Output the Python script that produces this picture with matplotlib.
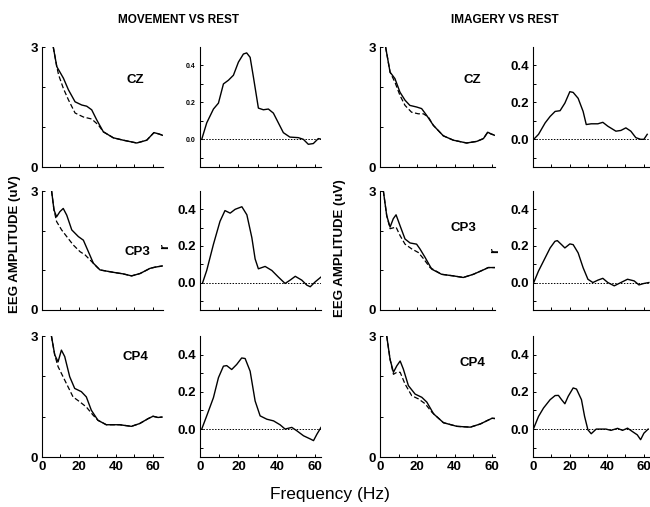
import matplotlib
matplotlib.use("Agg")
from matplotlib import pyplot as plt

plt.rcParams["font.family"] = ["Liberation Sans", "DejaVu Sans"]

# ---- amplitude spectra (uV): solid = task, dashed = rest ----
mov_cz_f = [6.1, 8, 11.6, 14.3, 17.9, 21.5, 24.2, 26.9, 29.6, 33.2, 38.6, 44, 51.3, 56.7, 60.6, 63, 65.5]
mov_cz_a = [3.0, 2.51, 2.22, 1.93, 1.63, 1.55, 1.52, 1.43, 1.18, 0.88, 0.73, 0.67, 0.60, 0.67, 0.86, 0.83, 0.79]
mov_cz_rest_f = [6.1, 8, 9, 11.6, 14.3, 17.9, 22.4, 26.9, 30.5, 33.2, 38.6, 44, 51.3, 56.7, 60.6, 63, 65.5]
mov_cz_rest_a = [3.0, 2.51, 2.30, 1.96, 1.68, 1.35, 1.25, 1.20, 1.05, 0.88, 0.73, 0.67, 0.60, 0.67, 0.86, 0.83, 0.79]

mov_cp3_f = [5.2, 6.5, 7.9, 9.7, 11.5, 13.4, 16.1, 19.7, 22.4, 25.1, 27.8, 31.4, 38.6, 44, 48.5, 53.1, 58.5, 61.2, 65.1]
mov_cp3_a = [3.0, 2.52, 2.35, 2.48, 2.56, 2.39, 2.02, 1.85, 1.76, 1.47, 1.18, 1.01, 0.95, 0.91, 0.86, 0.92, 1.05, 1.08, 1.11]
mov_cp3_rest_f = [5.2, 6.5, 7.9, 10.6, 13.4, 16.9, 20.6, 23.3, 26.9, 29.6, 31.4, 38.6, 44, 48.5, 53.1, 58.5, 61.2, 65.1]
mov_cp3_rest_a = [3.0, 2.52, 2.23, 2.02, 1.85, 1.64, 1.47, 1.39, 1.22, 1.09, 1.01, 0.95, 0.91, 0.86, 0.92, 1.05, 1.08, 1.11]

mov_cp4_f = [5.1, 6.9, 8.7, 10.5, 12.3, 15, 17.7, 21.3, 24, 26.7, 30.3, 34.8, 42, 48.4, 52.9, 57.4, 60.1, 62.8, 65]
mov_cp4_a = [3.0, 2.53, 2.36, 2.65, 2.49, 1.99, 1.70, 1.62, 1.49, 1.16, 0.91, 0.80, 0.80, 0.76, 0.83, 0.95, 1.01, 0.98, 0.99]
mov_cp4_rest_f = [5.1, 6.9, 8.7, 11.4, 14.1, 16.8, 20.4, 24, 27.6, 30.3, 34.8, 42, 48.4, 52.9, 57.4, 60.1, 62.8, 65]
mov_cp4_rest_a = [3.0, 2.53, 2.24, 1.99, 1.74, 1.49, 1.37, 1.24, 1.04, 0.91, 0.80, 0.80, 0.76, 0.83, 0.95, 1.01, 0.98, 0.99]

img_cz_f = [3, 5.4, 8, 10.7, 13.4, 16, 19.6, 22.3, 25, 28.6, 33.9, 39.3, 46.4, 51.8, 55.4, 57.7, 59.3, 61.6]
img_cz_a = [3.0, 2.37, 2.21, 1.87, 1.67, 1.54, 1.50, 1.46, 1.29, 1.04, 0.78, 0.67, 0.60, 0.64, 0.71, 0.87, 0.83, 0.79]
img_cz_rest_f = [3, 5.4, 8, 10.7, 13.4, 16.9, 20.5, 23.2, 25.9, 28.6, 33.9, 39.3, 46.4, 51.8, 55.4, 57.7, 59.3, 61.6]
img_cz_rest_a = [3.0, 2.37, 2.12, 1.79, 1.54, 1.37, 1.33, 1.33, 1.25, 1.04, 0.78, 0.67, 0.60, 0.64, 0.71, 0.87, 0.83, 0.79]

img_cp3_f = [1.8, 3.6, 5.4, 7.1, 8.6, 10.7, 13.4, 16.1, 19.6, 21.4, 24.1, 27.7, 33, 39.3, 44.6, 50, 55.3, 58, 61.6]
img_cp3_a = [3.0, 2.38, 2.09, 2.30, 2.40, 2.13, 1.79, 1.69, 1.66, 1.54, 1.33, 1.03, 0.90, 0.86, 0.82, 0.90, 1.01, 1.07, 1.07]
img_cp3_rest_f = [1.8, 3.6, 5.4, 8.6, 10.7, 13.4, 17, 20.5, 23.2, 26.8, 33, 39.3, 44.6, 50, 55.3, 58, 61.6]
img_cp3_rest_a = [3.0, 2.38, 2.05, 2.09, 1.88, 1.66, 1.54, 1.45, 1.30, 1.07, 0.90, 0.86, 0.82, 0.90, 1.01, 1.07, 1.07]

img_cp4_f = [3.6, 5.4, 7.2, 9, 10.8, 12.5, 15.2, 18.8, 22.4, 25.1, 28.7, 34, 41.2, 48.4, 53.8, 57.3, 60, 62.7]
img_cp4_a = [3.0, 2.42, 2.10, 2.26, 2.38, 2.18, 1.77, 1.56, 1.48, 1.36, 1.07, 0.85, 0.76, 0.74, 0.82, 0.90, 0.96, 0.95]
img_cp4_rest_f = [3.6, 5.4, 7.2, 9, 10.8, 13.4, 17, 20.6, 24.2, 27.8, 34, 41.2, 48.4, 53.8, 57.3, 60, 62.7]
img_cp4_rest_a = [3.0, 2.42, 2.05, 2.10, 2.10, 1.81, 1.52, 1.44, 1.32, 1.11, 0.85, 0.76, 0.74, 0.82, 0.90, 0.96, 0.95]

# ---- r spectra ----
mov_cz_rf = [0.9, 3.5, 7, 9.6, 12.2, 14.8, 17.4, 20, 22.6, 24.3, 26.1, 27.8, 30.4, 33, 35.6, 38.2, 40.8, 43.4, 46.8, 51.2, 53.8, 56.4, 59, 61.6, 63.4]
mov_cz_r = [0.0, 0.089, 0.164, 0.196, 0.30, 0.32, 0.347, 0.418, 0.462, 0.468, 0.444, 0.338, 0.169, 0.16, 0.164, 0.142, 0.089, 0.036, 0.012, 0.009, 0.0, -0.027, -0.023, 0.004, 0.0]

mov_cp3_rf = [1.4, 3.5, 7, 10.4, 13, 15.7, 18.3, 21.8, 24.4, 27, 28.7, 30.4, 33.9, 37.4, 40.8, 44.3, 46.9, 49.6, 53, 55.6, 57.4, 60, 63]
mov_cp3_r = [0.0, 0.066, 0.209, 0.334, 0.393, 0.379, 0.40, 0.414, 0.37, 0.245, 0.129, 0.075, 0.088, 0.066, 0.03, -0.005, 0.013, 0.034, 0.013, -0.014, -0.023, 0.004, 0.03]

mov_cp4_rf = [0.9, 3.5, 7, 9.6, 12.2, 13.9, 16.5, 19.1, 21.7, 23.5, 26.1, 28.7, 31.3, 34.8, 38.3, 41.7, 44.3, 47.8, 50.4, 53.9, 57.4, 59.1, 60.9, 63]
mov_cp4_r = [0.0, 0.071, 0.169, 0.276, 0.338, 0.341, 0.32, 0.347, 0.382, 0.379, 0.311, 0.151, 0.071, 0.053, 0.044, 0.023, 0.0, 0.009, -0.009, -0.036, -0.053, -0.062, -0.027, 0.009]

img_cz_rf = [0.4, 3, 6.6, 9.3, 12, 14.7, 17.3, 20, 21.8, 24.5, 27.2, 28.9, 31.6, 35.2, 37.9, 40.6, 45, 47.7, 50.4, 53.1, 55.8, 58.4, 60.2, 62]
img_cz_r = [0.0, 0.027, 0.089, 0.124, 0.151, 0.155, 0.196, 0.258, 0.254, 0.222, 0.151, 0.08, 0.084, 0.084, 0.092, 0.071, 0.044, 0.048, 0.062, 0.044, 0.009, 0.0, 0.0, 0.027]

img_cp3_rf = [0.4, 3, 5.7, 9.3, 11.9, 13.2, 15.5, 17.3, 20, 21.8, 24.5, 27.2, 29.8, 32.5, 35.2, 37.9, 40.6, 44.1, 47.7, 51.3, 54.9, 57.5, 60.2, 62.9]
img_cp3_r = [0.0, 0.063, 0.117, 0.189, 0.225, 0.229, 0.207, 0.189, 0.211, 0.207, 0.162, 0.081, 0.018, 0.0, 0.013, 0.023, 0.0, -0.018, 0.0, 0.018, 0.009, -0.013, -0.005, 0.0]

img_cp4_rf = [0.4, 3, 5.7, 9.3, 12, 13.8, 15.5, 17.3, 19.1, 21.8, 23.6, 26.3, 28, 29.8, 31.6, 34.3, 39.6, 42.3, 45.9, 48.6, 51.3, 53.9, 56.6, 58.4, 60.2, 62.5]
img_cp4_r = [0.005, 0.068, 0.113, 0.158, 0.18, 0.181, 0.158, 0.136, 0.176, 0.221, 0.215, 0.158, 0.068, -0.004, -0.025, 0.0, 0.0, -0.007, 0.004, -0.007, 0.005, -0.013, -0.031, -0.057, -0.022, 0.0]

W, H = 650, 507
fig = plt.figure(figsize=(W / 100, H / 100), dpi=100)
fig.patch.set_facecolor("white")

rows = [(47, 167), (191, 310), (336, 457)]
cols = [(42, 163, 65.5), (200, 321, 63), (380, 495, 61.6), (533, 650, 63.5)]


def px_axes(col, row):
    l, r, xmax = cols[col]
    t, b = rows[row]
    ax = fig.add_axes([l / W, 1 - b / H, (r - l) / W, (b - t) / H])
    for s in ["top", "right"]:
        ax.spines[s].set_visible(False)
    for s in ["left", "bottom"]:
        ax.spines[s].set_linewidth(0.8)
    ax.set_xlim(0, xmax)
    ax.set_xticks([0, 10, 20, 30, 40, 50, 60])
    if row == 2:
        ax.set_xticklabels(["0", "", "20", "", "40", "", "60"], fontsize=9.5, fontweight="bold")
    else:
        ax.set_xticklabels([])
    ax.tick_params(direction="in", length=2.5, width=0.7, pad=3)
    return ax


amp_sets = [
    [(mov_cz_f, mov_cz_a, mov_cz_rest_f, mov_cz_rest_a),
     (mov_cp3_f, mov_cp3_a, mov_cp3_rest_f, mov_cp3_rest_a),
     (mov_cp4_f, mov_cp4_a, mov_cp4_rest_f, mov_cp4_rest_a)],
    [(img_cz_f, img_cz_a, img_cz_rest_f, img_cz_rest_a),
     (img_cp3_f, img_cp3_a, img_cp3_rest_f, img_cp3_rest_a),
     (img_cp4_f, img_cp4_a, img_cp4_rest_f, img_cp4_rest_a)],
]
r_sets = [
    [(mov_cz_rf, mov_cz_r), (mov_cp3_rf, mov_cp3_r), (mov_cp4_rf, mov_cp4_r)],
    [(img_cz_rf, img_cz_r), (img_cp3_rf, img_cp3_r), (img_cp4_rf, img_cp4_r)],
]
sites = ["CZ", "CP3", "CP4"]
site_pos = [[(135, 80), (137, 252), (135, 357)], [(472, 80), (463, 228), (472, 363)]]

for cond in range(2):
    for row in range(3):
        # amplitude panel
        ax = px_axes(cond * 2, row)
        f, a, fr, ar = amp_sets[cond][row]
        ax.plot(fr, ar, color="black", lw=0.9, ls=(0, (4, 2)))
        ax.plot(f, a, color="black", lw=1.0)
        ax.set_ylim(0, 3)
        ax.set_yticks([0, 1, 2, 3])
        ax.set_yticklabels(["0", "", "", "3"], fontsize=9.5, fontweight="bold")
        x, y = site_pos[cond][row]
        fig.text(x / W, 1 - y / H, sites[row], fontsize=9.5, fontweight="bold",
                 ha="center", va="center")

        # r panel
        ax = px_axes(cond * 2 + 1, row)
        rf, rv = r_sets[cond][row]
        ax.plot([0, cols[cond * 2 + 1][2]], [0, 0], color="black", lw=0.7, ls=(0, (1.5, 1.5)))
        ax.plot(rf, rv, color="black", lw=1.0)
        ax.set_ylim(-0.15, 0.5)
        ax.set_yticks([-0.1, 0.0, 0.1, 0.2, 0.3, 0.4])
        fs = 5 if (cond == 0 and row == 0) else 9.5
        ax.set_yticklabels(["", "0.0", "", "0.2", "", "0.4"], fontsize=fs, fontweight="bold")

fig.text(178 / W, 1 - 20 / H, "MOVEMENT VS REST", fontsize=8.5, fontweight="bold", ha="center", va="center")
fig.text(505 / W, 1 - 20 / H, "IMAGERY VS REST", fontsize=8.5, fontweight="bold", ha="center", va="center")
fig.text(15 / W, 1 - 244 / H, "EEG AMPLITUDE (uV)", fontsize=9.5, fontweight="bold",
         rotation=90, ha="center", va="center")
fig.text(340 / W, 1 - 248 / H, "EEG AMPLITUDE (uV)", fontsize=9.5, fontweight="bold",
         rotation=90, ha="center", va="center")
fig.text(165 / W, 1 - 246 / H, "r", fontsize=9.5, fontweight="bold", rotation=90, ha="center", va="center")
fig.text(495 / W, 1 - 250 / H, "r", fontsize=9.5, fontweight="bold", rotation=90, ha="center", va="center")
fig.text(330 / W, 1 - 494 / H, "Frequency (Hz)", fontsize=12.5, ha="center", va="center")

fig.savefig("out.png", dpi=100)
